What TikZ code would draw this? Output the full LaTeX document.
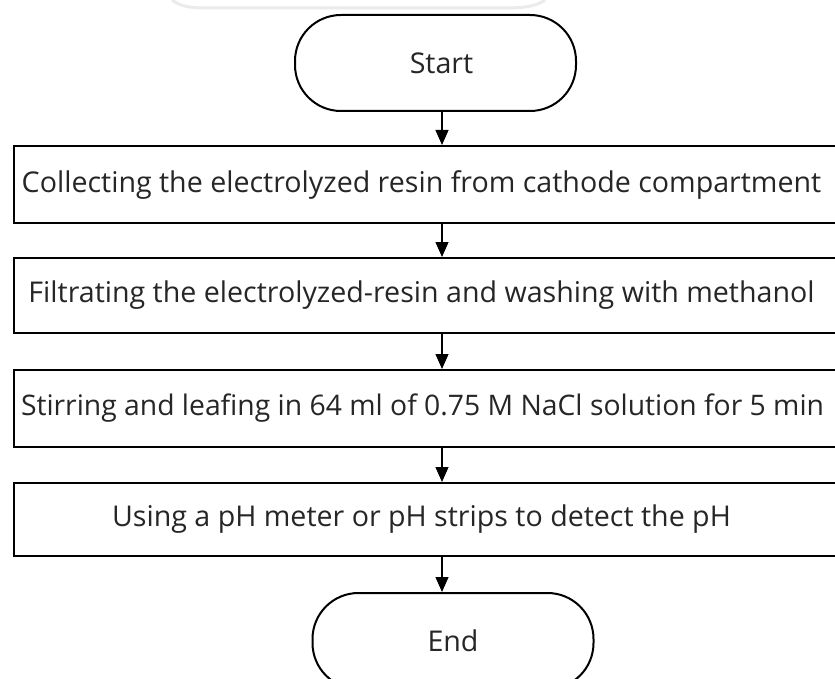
\documentclass[tikz,border=0pt]{standalone}
\usepackage{fontspec}
\setmainfont{Open Sans}
\usetikzlibrary{arrows.meta}
\tikzset{
  px/.style={x=1pt,y=-1pt},
  stepbox/.style={draw=black, line width=2pt, rectangle, minimum width=823pt, inner sep=0pt, text=black!85, font=\fontsize{28.6}{32}\selectfont},
  term/.style={draw=black, line width=2pt, rectangle, rounded corners=46pt, minimum width=281pt, minimum height=96pt, inner sep=0pt, text=black!85, font=\fontsize{28.6}{32}\selectfont},
  arr/.style={draw=black, line width=1.2pt, -{Triangle[width=13pt,length=15pt]}},
  wmark/.style={draw=black!8, line width=3pt}
}
\begin{document}
\begin{tikzpicture}[px]
\useasboundingbox (0,0) rectangle (835,679);
\fill[white] (0,0) rectangle (835,679);
% faint watermark fragment at top
\draw[wmark] (172,0) .. controls (182,8) and (195,8) .. (215,8) -- (505,8) .. controls (525,8) and (537,6) .. (545,0);
\node[term] (s) at (435.5,63) {\hspace*{12pt}Start};
\node[stepbox, minimum height=77pt] (b1) at (425.5,184.5) {\hspace*{-8pt}Collecting the electrolyzed resin from cathode compartment};
\node[stepbox, minimum height=75pt] (b2) at (425.5,295.5) {\hspace*{-8pt}Filtrating the electrolyzed-resin and washing with methanol};
\node[stepbox, minimum height=77pt, font=\fontsize{28.3}{32}\selectfont] (b3) at (425.5,408.5) {\hspace*{-6pt}Stirring and leafing in 64 ml of 0.75 M NaCl solution for 5 min};
\node[stepbox, minimum height=73pt] (b4) at (425.5,519.5) {\hspace*{-8pt}Using a pH meter or pH strips to detect the pH};
\node[term] (e) at (453,641) {End};
\coordinate (ax) at (442,0);
\draw[arr] (s.south -| ax) -- (b1.north -| ax);
\draw[arr] (b1.south -| ax) -- (b2.north -| ax);
\draw[arr] (b2.south -| ax) -- (b3.north -| ax);
\draw[arr] (b3.south -| ax) -- (b4.north -| ax);
\draw[arr] (b4.south -| ax) -- (e.north -| ax);
\end{tikzpicture}
\end{document}
